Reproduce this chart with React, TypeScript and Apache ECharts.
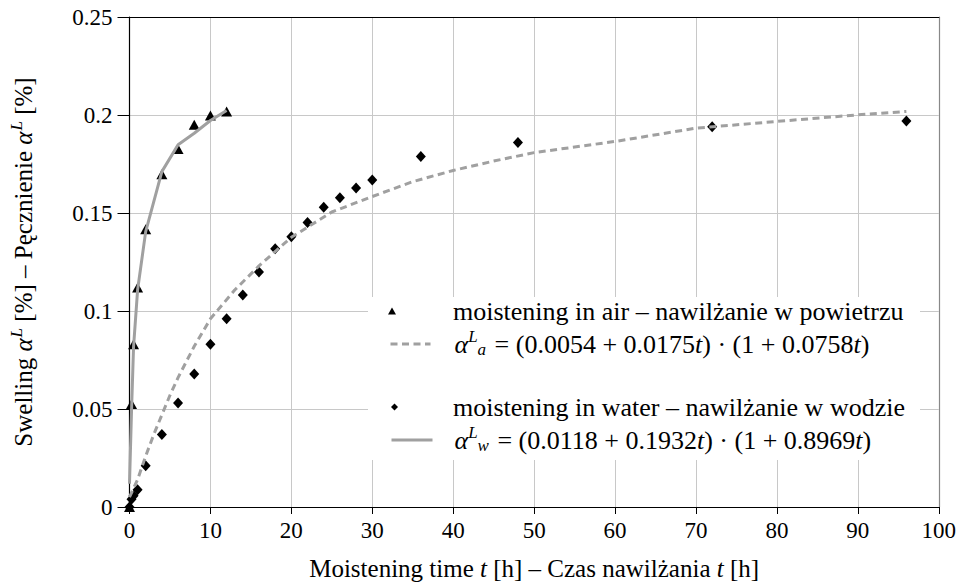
import { useEffect, useRef } from "react";
import * as echarts from "echarts";

// ---- data ----
const airT = [0, 0.25, 0.5, 1, 2, 4, 6, 8, 10, 12];
const airSwelling = [0, 0.0525, 0.083, 0.112, 0.1417, 0.1698, 0.1826, 0.195, 0.1997, 0.2018];

const waterT = [0, 0.25, 0.5, 1, 2, 4, 6, 8, 10, 12, 14, 16, 18, 20, 22, 24, 26, 28, 30, 36, 48, 72, 96];
const waterSwelling = [
  0, 0.004, 0.0058, 0.0088, 0.021, 0.037, 0.0531, 0.0678, 0.083, 0.096, 0.1081, 0.1199, 0.1318, 0.1379,
  0.1451, 0.1529, 0.1578, 0.1628, 0.1669, 0.1788, 0.186, 0.194, 0.1969,
];

// solid grey fitted curve (through the triangles)
const solidFitT = [0, 0.25, 0.5, 1, 2, 4, 6, 8, 10, 12];
const solidFitValues = [0.0119, 0.049, 0.0817, 0.1107, 0.1405, 0.1711, 0.1848, 0.1907, 0.1972, 0.2023];

// dashed grey fitted curve (through the diamonds)
const dashedFitT = [0, 1, 2, 3, 4, 5, 6, 8, 10, 13, 16, 20, 25, 30, 35, 40, 45, 50, 60, 70, 80, 90, 96];
const dashedFitValues = [
  0.005, 0.014, 0.026, 0.037, 0.047, 0.057, 0.066, 0.082, 0.096, 0.1107, 0.123, 0.1376, 0.1505, 0.1584,
  0.166, 0.1717, 0.1765, 0.1808, 0.1865, 0.1933, 0.1967, 0.2001, 0.2018,
];

const legendAir = "moistening in air – nawilżanie w powietrzu";
const legendWater = "moistening in water – nawilżanie w wodzie";
const formulaA = "{i|α}{sup|L}{sub|a}{r| = (0.0054 + 0.0175}{i|t}{r|) · (1 + 0.0758}{i|t}{r|)}";
const formulaW = "{i|α}{sup|L}{sub|w}{r| = (0.0118 + 0.1932}{i|t}{r|) · (1 + 0.8969}{i|t}{r|)}";
const xName = "Moistening time {i|t} [h] – Czas nawilżania {i|t} [h]";
const yName = "Swelling {i|α}{supL|L} [%] – Pęcznienie {i|α}{supL|L} [%]";

const FONT = "'Liberation Serif', 'Times New Roman', serif";
const GRAY = "#a0a0a0";
const GRID = "#c8c8c8";
const NAME_SIZE = 25;
const LEG_SIZE = 26;
const TICK_SIZE = 23;
const SMALL = 17;
const LH = 32;

const zip = (xs: number[], ys: number[]) => xs.map((x, i) => [x, ys[i]]);

const mathRich = (spacer: number, size: number) => ({
  sp: { width: spacer, fontSize: size, lineHeight: LH },
  i: { fontFamily: FONT, fontStyle: "italic", fontSize: size, color: "#000", lineHeight: LH },
  r: { fontFamily: FONT, fontSize: size, color: "#000", lineHeight: LH },
  sup: { fontFamily: FONT, fontStyle: "italic", fontSize: SMALL, color: "#000", padding: [0, 0, 15, 0] },
  sub: { fontFamily: FONT, fontStyle: "italic", fontSize: SMALL, color: "#000", padding: [10, 2, 0, 0] },
  supL: { fontFamily: FONT, fontStyle: "italic", fontSize: SMALL, color: "#000", padding: [0, 0, 14, 1] },
});

const legendTexts: Record<string, string> = {
  air: "{sp|\u00a0}" + legendAir,
  alphaA: "{sp|\u00a0}" + formulaA,
  water: "{sp|\u00a0}" + legendWater,
  alphaW: "{sp|\u00a0}" + formulaW,
};

const makeLegend = (
  name: string,
  left: number,
  top: number,
  itemWidth: number,
  itemHeight: number,
  spacer: number,
  extra: Record<string, unknown> = {}
) => ({
  data: [name],
  left,
  top,
  padding: 0,
  orient: "vertical",
  itemWidth,
  itemHeight,
  selectedMode: false,
  formatter: (n: string) => legendTexts[n],
  textStyle: {
    fontFamily: FONT,
    fontSize: LEG_SIZE,
    color: "#000",
    lineHeight: LH,
    rich: mathRich(spacer, LEG_SIZE),
  },
  ...extra,
});

export default function App() {
  const ref = useRef<HTMLDivElement>(null);
  useEffect(() => {
    const chart = echarts.init(ref.current!, null, { renderer: "svg" });
    chart.setOption({
      animation: false,
      backgroundColor: "#fff",
      textStyle: { fontFamily: FONT },
      grid: { left: 125, right: 14, top: 17, bottom: 81 },
      xAxis: [
        {
          type: "value",
          min: 0,
          max: 100,
          interval: 10,
          position: "bottom",
          name: xName,
          nameLocation: "middle",
          nameGap: 45,
          nameTextStyle: { fontFamily: FONT, fontSize: NAME_SIZE, color: "#000", rich: mathRich(0, NAME_SIZE) },
          axisLine: { onZero: false, lineStyle: { color: "#000", width: 1.2 } },
          axisTick: { length: 7, lineStyle: { color: "#000" } },
          axisLabel: { margin: 12, fontFamily: FONT, fontSize: TICK_SIZE, color: "#000" },
          splitLine: { show: true, lineStyle: { color: GRID, width: 1 } },
        },
        {
          type: "value",
          min: 0,
          max: 100,
          position: "top",
          axisLine: { show: true, onZero: false, lineStyle: { color: "#000", width: 1.2 } },
          axisTick: { show: false },
          axisLabel: { show: false },
          splitLine: { show: false },
        },
      ],
      yAxis: [
        {
          type: "value",
          min: 0,
          max: 0.25,
          interval: 0.05,
          position: "left",
          name: yName,
          nameLocation: "middle",
          nameGap: 90,
          nameTextStyle: { fontFamily: FONT, fontSize: NAME_SIZE, color: "#000", rich: mathRich(0, NAME_SIZE) },
          axisLine: { show: true, onZero: false, lineStyle: { color: "#000", width: 1.2 } },
          axisTick: { show: true, length: 12, lineStyle: { color: "#000" } },
          axisLabel: { margin: 17, fontFamily: FONT, fontSize: TICK_SIZE, color: "#000" },
          splitLine: { show: true, lineStyle: { color: GRID, width: 1 } },
        },
        {
          type: "value",
          min: 0,
          max: 0.25,
          position: "right",
          axisLine: { show: true, onZero: false, lineStyle: { color: "#888", width: 1.2 } },
          axisTick: { show: false },
          axisLabel: { show: false },
          splitLine: { show: false },
        },
      ],
      graphic: {
        elements: [
          {
            type: "rect",
            left: 368,
            top: 297,
            z: 1,
            silent: true,
            shape: { width: 552, height: 163 },
            style: { fill: "#fff" },
          },
        ],
      },
      legend: [
        makeLegend("air", 388, 295, 8, 7, 52),
        makeLegend("alphaA", 389, 328, 40, 14, 19, {
          lineStyle: { width: 3, type: [7, 4.5] },
          itemStyle: { opacity: 0 },
        }),
        makeLegend("water", 391, 391, 7, 7, 50),
        makeLegend("alphaW", 390, 424, 41, 14, 17, {
          lineStyle: { width: 3 },
          itemStyle: { opacity: 0 },
        }),
      ],
      series: [
        {
          type: "line",
          name: "alphaA",
          data: zip(dashedFitT, dashedFitValues),
          symbol: "none",
          showSymbol: false,
          smooth: false,
          lineStyle: { color: GRAY, width: 3, type: [7, 4.5] },
          itemStyle: { color: GRAY },
        },
        {
          type: "line",
          name: "alphaW",
          data: zip(solidFitT, solidFitValues),
          symbol: "none",
          showSymbol: false,
          smooth: false,
          lineStyle: { color: GRAY, width: 3 },
          itemStyle: { color: GRAY },
        },
        {
          type: "scatter",
          name: "air",
          symbol: "triangle",
          symbolSize: [11, 10],
          itemStyle: { color: "#000", opacity: 1 },
          data: zip(airT, airSwelling),
        },
        {
          type: "scatter",
          name: "water",
          symbol: "diamond",
          symbolSize: [10, 11],
          itemStyle: { color: "#000", opacity: 1 },
          data: zip(waterT, waterSwelling),
        },
      ],
    });
    return () => chart.dispose();
  }, []);
  return <div ref={ref} style={{ position: "absolute", left: 0, top: 0, width: 959, height: 588 }} />;
}
